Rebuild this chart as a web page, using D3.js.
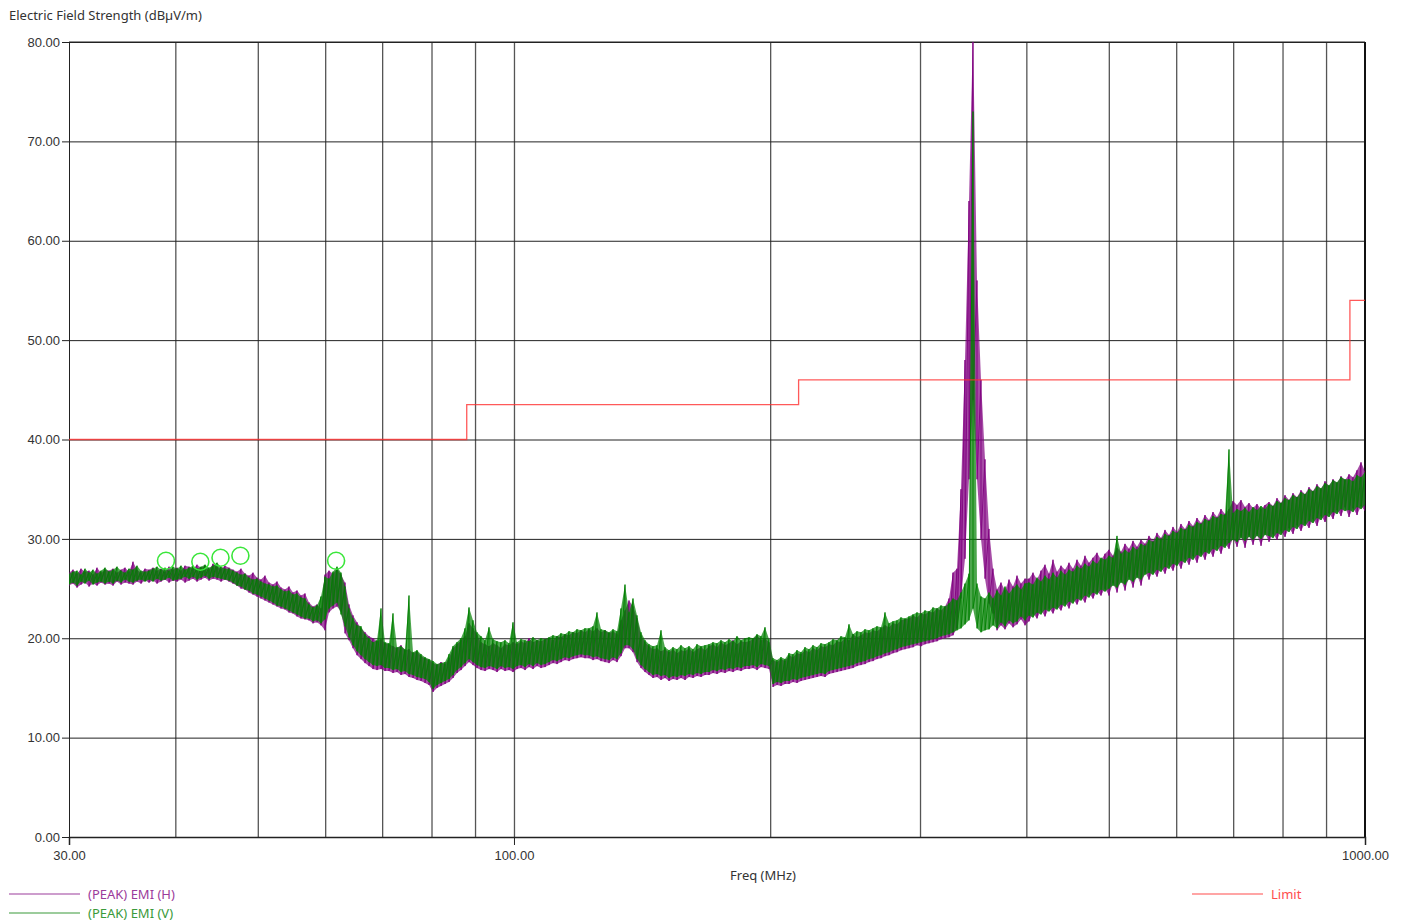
<!DOCTYPE html>
<html>
<head>
<meta charset="utf-8">
<script src="https://cdn.jsdelivr.net/npm/d3@7"></script>
<style>
  body { margin: 0; background: #fff; }
  svg { display: block; font-family: "Noto Sans", "Open Sans", sans-serif; }
  .tick text { font-size: 13px; fill: #333; }
</style>
</head>
<body>
<svg id="chart" width="1406" height="923"></svg>
<script>
// sweep display bins, evenly spaced in log frequency from 30 to 1000 MHz;
// each bin keeps the min and max level the receiver saw in it (dBuV/m)
const FREQ_START = 30, FREQ_STOP = 1000;

// (PEAK) EMI (H)
const EMI_H_MAX = [
  26.6, 26.9, 26.5, 27.0, 26.7, 26.8, 26.4, 27.1, 26.6, 26.9,
  26.8, 27.0, 26.6, 26.9, 27.1, 26.7, 27.7, 26.9, 26.6, 27.0,
  26.9, 27.1, 26.8, 27.0, 26.7, 27.2, 26.9, 27.1, 26.8, 27.3,
  27.2, 27.0, 27.4, 27.1, 27.3, 26.9, 27.5, 27.2, 27.0, 27.3,
  27.1, 26.9, 26.7, 27.0, 26.5, 26.3, 26.6, 26.1, 25.9, 26.3,
  25.6, 25.4, 25.7, 25.1, 24.9, 25.2, 24.6, 24.8, 24.3, 24.5,
  23.6, 23.2, 23.4, 23.0, 26.4, 26.8, 26.5, 27.0, 26.4, 25.6,
  23.4, 22.3, 21.6, 21.0, 20.6, 20.2, 20.0, 19.7, 19.9, 19.5,
  19.4, 19.2, 19.0, 19.3, 18.8, 18.9, 18.5, 18.7, 18.2, 18.0,
  17.8, 17.5, 17.3, 17.6, 17.4, 18.0, 19.0, 19.4, 19.8, 20.2,
  21.5, 21.0, 20.3, 19.6, 19.4, 19.2, 19.5, 19.3, 19.0, 19.4,
  19.3, 19.6, 19.4, 19.7, 19.5, 20.0, 19.6, 19.8, 19.7, 19.9,
  20.0, 19.8, 20.2, 20.1, 20.4, 20.3, 20.6, 20.5, 20.8, 20.6,
  20.9, 20.7, 21.0, 20.6, 20.8, 20.5, 20.7, 20.4, 21.8, 22.8,
  23.8, 23.2, 22.0, 20.3, 19.6, 19.2, 18.9, 19.0, 18.7, 18.9,
  18.6, 18.9, 18.5, 18.8, 18.7, 19.0, 18.6, 18.9, 19.1, 18.8,
  19.2, 19.4, 19.1, 19.6, 19.3, 19.5, 19.8, 19.4, 19.7, 19.6,
  19.7, 19.9, 20.3, 19.8, 20.0, 19.6, 17.8, 17.6, 17.9, 17.7,
  18.3, 18.1, 18.5, 18.4, 18.8, 18.6, 19.0, 18.8, 19.2, 19.1,
  19.4, 19.3, 19.7, 19.6, 20.0, 19.8, 20.4, 20.1, 20.3, 20.6,
  20.5, 20.8, 20.7, 21.0, 21.3, 21.1, 21.5, 21.4, 21.8, 21.9,
  22.0, 22.3, 22.1, 22.5, 22.4, 22.7, 22.6, 23.0, 22.8, 23.2,
  24.0, 26.6, 27.0, 35.0, 48.0, 64.0, 81.0, 56.0, 46.0, 38.0,
  31.0, 27.0, 24.9, 25.6, 24.8, 25.9, 25.2, 26.3, 25.5, 26.0,
  26.0, 26.6, 25.9, 26.8, 27.4, 26.5, 27.9, 26.7, 27.3, 26.9,
  27.6, 27.0, 27.9, 27.3, 28.3, 27.6, 28.1, 28.6, 27.9, 28.5,
  28.9, 28.3, 29.1, 28.7, 29.5, 29.0, 29.8, 29.2, 29.9, 29.5,
  30.3, 29.8, 30.6, 30.1, 30.9, 30.4, 31.2, 30.7, 31.5, 31.0,
  31.8, 31.3, 32.1, 31.6, 32.4, 31.9, 32.7, 32.2, 33.0, 32.5,
  33.0, 33.8, 33.4, 33.9, 33.2, 33.6, 33.1, 33.5, 33.0, 33.4,
  33.7, 33.3, 34.1, 33.6, 34.4, 33.9, 34.6, 34.2, 34.9, 34.5,
  35.2, 34.8, 35.5, 35.0, 35.8, 35.3, 36.0, 35.6, 36.3, 35.9,
  36.5, 36.2, 36.9, 37.7, 36.8
];
const EMI_H_MIN = [
  25.3, 25.5, 25.1, 25.4, 25.6, 25.2, 25.5, 25.3, 25.6, 25.4,
  25.5, 25.3, 25.7, 25.4, 25.6, 25.5, 25.4, 25.7, 25.5, 25.8,
  25.6, 25.8, 25.5, 25.7, 25.9, 25.6, 25.8, 25.7, 25.9, 25.6,
  25.8, 26.0, 25.7, 25.9, 26.1, 25.8, 26.0, 25.9, 25.7, 25.9,
  25.7, 25.5, 25.3, 25.0, 24.9, 24.6, 24.4, 24.2, 24.0, 23.8,
  23.6, 23.4, 23.2, 23.0, 22.9, 22.6, 22.5, 22.2, 22.0, 21.9,
  21.8, 21.5, 21.6, 21.3, 20.8, 22.6, 23.0, 23.2, 22.7, 20.5,
  19.8, 19.0, 18.3, 17.9, 17.5, 17.2, 16.9, 16.8, 16.9, 16.7,
  16.7, 16.5, 16.6, 16.3, 16.4, 16.1, 16.0, 15.8, 15.7, 15.5,
  15.3, 14.6, 15.0, 15.2, 15.4, 15.6, 16.0, 16.5, 16.8, 17.2,
  17.6, 17.3, 17.0, 16.8, 16.7, 16.9, 16.8, 16.6, 16.9, 16.7,
  16.8, 16.6, 16.9, 17.0, 16.8, 17.1, 16.9, 17.2, 17.0, 17.1,
  17.3, 17.5, 17.4, 17.6, 17.8, 17.7, 17.9, 18.0, 18.1, 18.0,
  18.0, 17.8, 17.9, 17.7, 17.6, 17.5, 17.8, 17.6, 18.2, 19.0,
  19.0, 18.6, 17.6, 17.0, 16.6, 16.3, 16.0, 16.1, 15.8, 16.0,
  15.7, 15.9, 15.8, 16.0, 15.8, 16.1, 16.0, 16.2, 16.1, 16.3,
  16.3, 16.5, 16.4, 16.6, 16.5, 16.7, 16.6, 16.8, 16.7, 16.9,
  16.9, 17.0, 16.8, 17.1, 17.0, 16.9, 15.1, 15.3, 15.2, 15.4,
  15.4, 15.6, 15.5, 15.7, 15.8, 15.9, 16.0, 16.1, 16.2, 16.1,
  16.4, 16.5, 16.6, 16.7, 16.8, 16.9, 17.0, 17.2, 17.3, 17.4,
  17.6, 17.7, 17.9, 18.0, 18.2, 18.3, 18.5, 18.6, 18.8, 18.9,
  19.0, 19.1, 19.3, 19.2, 19.4, 19.5, 19.6, 19.7, 19.9, 20.0,
  20.1, 20.3, 21.0, 24.0, 28.0, 36.0, 44.0, 36.0, 30.0, 26.0,
  23.5, 22.5, 20.8, 21.3, 20.9, 21.5, 21.1, 21.4, 21.9, 21.3,
  21.7, 22.5, 22.0, 22.8, 22.2, 23.0, 22.5, 23.2, 22.8, 23.6,
  23.0, 23.9, 23.4, 24.1, 23.6, 24.5, 24.0, 24.7, 24.3, 25.0,
  24.3, 25.6, 24.6, 25.9, 24.8, 26.2, 25.1, 26.4, 25.3, 26.7,
  25.9, 26.8, 26.2, 27.1, 26.5, 27.4, 26.8, 27.7, 27.0, 28.0,
  27.4, 28.3, 27.6, 28.6, 27.9, 28.9, 28.2, 29.2, 28.5, 29.5,
  29.0, 30.1, 29.2, 30.3, 29.1, 30.4, 29.4, 30.5, 29.3, 30.6,
  29.7, 30.5, 29.9, 30.8, 30.2, 31.1, 30.5, 31.4, 30.8, 31.6,
  31.1, 32.0, 31.3, 32.3, 31.7, 32.6, 32.0, 32.9, 32.3, 33.2,
  32.2, 33.1, 32.4, 33.3, 32.8
];

// (PEAK) EMI (V)
const EMI_V_MAX = [
  26.5, 26.7, 26.8, 26.4, 27.0, 26.6, 26.9, 26.5, 26.8, 27.1,
  26.7, 26.9, 27.2, 26.8, 26.6, 27.0, 26.9, 27.3, 26.8, 26.7,
  26.8, 27.0, 27.2, 26.9, 27.1, 26.8, 27.2, 27.0, 27.3, 26.9,
  27.1, 27.3, 27.0, 27.2, 27.4, 27.1, 27.3, 27.6, 27.2, 27.0,
  27.0, 26.8, 26.6, 26.4, 26.5, 26.1, 25.9, 26.0, 25.7, 25.5,
  25.4, 25.2, 25.3, 24.9, 24.7, 24.8, 24.4, 24.5, 24.1, 24.0,
  23.4, 23.1, 23.3, 24.2, 26.2, 26.0, 26.7, 27.2, 26.6, 25.2,
  23.0, 22.0, 21.3, 21.2, 20.4, 20.0, 19.6, 19.8, 23.0, 19.6,
  19.5, 22.5, 19.1, 19.2, 18.9, 24.3, 18.6, 18.8, 18.4, 18.1,
  17.9, 17.7, 17.4, 17.5, 17.6, 18.4, 19.2, 19.6, 20.0, 21.0,
  23.1, 21.8, 20.6, 20.2, 19.8, 21.1, 19.9, 19.7, 19.6, 19.8,
  19.5, 21.6, 19.6, 19.9, 19.8, 19.7, 20.1, 19.8, 20.0, 19.9,
  20.1, 20.3, 20.2, 20.5, 20.4, 20.7, 20.6, 20.9, 20.8, 21.0,
  21.0, 21.2, 22.6, 20.9, 20.8, 20.6, 20.9, 20.7, 23.0, 25.4,
  22.6, 24.0, 22.3, 20.6, 19.8, 19.4, 19.2, 19.3, 20.8, 19.1,
  18.8, 19.1, 18.9, 19.3, 19.0, 19.2, 18.9, 19.4, 19.2, 19.3,
  19.4, 19.6, 19.5, 19.8, 19.6, 19.9, 19.7, 20.2, 19.8, 20.0,
  20.1, 20.0, 20.4, 20.2, 21.1, 19.9, 18.0, 17.8, 18.1, 17.9,
  18.5, 18.4, 18.8, 18.6, 19.1, 18.9, 19.3, 19.1, 19.5, 19.4,
  19.6, 19.9, 19.8, 20.2, 20.1, 21.4, 20.4, 20.7, 20.6, 20.9,
  20.8, 21.0, 21.2, 21.1, 22.6, 21.5, 21.7, 21.8, 22.1, 22.0,
  22.2, 22.4, 22.6, 22.5, 22.8, 22.7, 23.1, 23.0, 23.3, 23.2,
  23.5, 24.0, 23.8, 24.6, 25.5, 26.5, 73.0, 25.5, 24.2, 24.0,
  24.6, 24.0, 24.8, 24.3, 25.2, 24.5, 25.0, 25.4, 24.9, 25.5,
  25.6, 25.4, 26.1, 25.7, 26.3, 25.9, 26.6, 26.1, 26.8, 26.4,
  26.9, 26.7, 27.3, 27.0, 27.5, 27.2, 27.8, 27.5, 28.1, 27.9,
  28.3, 28.1, 30.3, 28.5, 28.9, 28.6, 29.2, 28.9, 29.5, 29.3,
  29.9, 29.7, 30.2, 30.0, 30.5, 30.3, 30.8, 30.6, 31.1, 30.9,
  31.4, 31.2, 31.7, 31.5, 32.0, 31.8, 32.3, 32.1, 32.5, 32.4,
  39.0, 32.6, 33.0, 32.8, 33.1, 32.7, 33.2, 32.9, 33.3, 33.0,
  33.5, 33.3, 33.8, 33.6, 34.1, 33.9, 34.4, 34.2, 34.7, 34.5,
  35.0, 34.8, 35.3, 35.1, 35.6, 35.4, 35.9, 35.7, 36.2, 36.0,
  36.0, 35.8, 36.4, 36.2, 36.7
];
const EMI_V_MIN = [
  25.4, 25.6, 25.3, 25.7, 25.5, 25.8, 25.4, 25.6, 25.7, 25.5,
  25.7, 25.5, 25.8, 25.6, 25.9, 25.7, 25.6, 25.8, 25.9, 25.7,
  25.9, 25.7, 26.0, 25.8, 25.9, 26.1, 25.8, 25.9, 26.0, 26.2,
  26.0, 26.2, 25.9, 26.1, 26.3, 26.0, 26.2, 26.1, 26.0, 25.9,
  25.8, 25.6, 25.3, 25.2, 24.9, 24.8, 24.5, 24.4, 24.2, 24.0,
  23.8, 23.6, 23.3, 23.2, 23.0, 22.8, 22.6, 22.4, 22.2, 22.0,
  22.0, 21.7, 21.8, 21.5, 21.9, 23.0, 23.3, 23.6, 22.4, 21.2,
  20.1, 19.3, 18.7, 18.3, 17.9, 17.6, 17.3, 17.2, 17.3, 17.0,
  17.0, 16.8, 16.9, 16.6, 16.7, 16.4, 16.3, 16.1, 16.0, 15.9,
  15.6, 14.9, 15.3, 15.5, 15.7, 15.9, 16.3, 16.8, 17.1, 17.5,
  17.9, 17.6, 17.3, 17.1, 17.0, 17.2, 17.1, 16.9, 17.2, 17.0,
  17.1, 16.9, 17.2, 17.3, 17.1, 17.4, 17.2, 17.5, 17.3, 17.4,
  17.6, 17.8, 17.7, 17.9, 18.1, 18.0, 18.2, 18.3, 18.4, 18.3,
  18.3, 18.1, 18.2, 18.0, 17.9, 17.8, 18.1, 17.9, 18.5, 19.3,
  19.3, 18.9, 17.9, 17.3, 16.9, 16.6, 16.3, 16.4, 16.2, 16.3,
  16.0, 16.2, 16.1, 16.3, 16.2, 16.4, 16.3, 16.5, 16.4, 16.6,
  16.6, 16.8, 16.7, 16.9, 16.8, 17.0, 16.9, 17.1, 17.0, 17.2,
  17.2, 17.3, 17.1, 17.4, 17.3, 17.2, 15.4, 15.6, 15.5, 15.7,
  15.7, 15.9, 15.8, 16.0, 16.1, 16.2, 16.3, 16.4, 16.5, 16.4,
  16.7, 16.8, 16.9, 17.0, 17.1, 17.2, 17.3, 17.5, 17.6, 17.7,
  17.9, 18.0, 18.2, 18.3, 18.5, 18.6, 18.8, 18.9, 19.1, 19.2,
  19.3, 19.4, 19.5, 19.6, 19.7, 19.8, 19.9, 20.0, 20.2, 20.3,
  20.4, 20.6, 20.8, 21.0, 21.4, 21.8, 23.0, 21.0, 20.6, 20.8,
  20.9, 21.3, 21.0, 21.6, 21.2, 21.8, 21.5, 21.7, 22.2, 21.8,
  22.3, 22.1, 22.6, 22.4, 22.9, 22.7, 23.1, 22.9, 23.4, 23.2,
  23.7, 23.5, 24.0, 23.8, 24.3, 24.1, 24.6, 24.4, 24.9, 24.7,
  25.0, 25.3, 25.1, 25.6, 25.4, 25.9, 25.7, 26.1, 25.9, 26.4,
  26.6, 26.4, 26.9, 26.7, 27.2, 27.0, 27.5, 27.3, 27.8, 27.6,
  28.1, 27.9, 28.4, 28.2, 28.7, 28.5, 29.0, 28.8, 29.3, 29.1,
  29.6, 29.9, 29.7, 30.1, 29.8, 30.2, 29.9, 30.3, 30.0, 30.4,
  30.3, 30.1, 30.6, 30.4, 30.9, 30.7, 31.2, 31.0, 31.5, 31.3,
  31.8, 31.6, 32.1, 31.9, 32.4, 32.2, 32.7, 32.5, 33.0, 32.8,
  32.9, 32.7, 33.2, 33.0, 33.4
];

// FCC class B limit (3 m)
const LIMIT_FREQ  = [30, 88, 88, 216, 216, 960, 960, 1000];
const LIMIT_LEVEL = [40, 40, 43.5, 43.5, 46, 46, 54, 54];

// peak markers
const MARK_FREQ  = [39.0, 42.8, 45.2, 47.7, 61.8];
const MARK_LEVEL = [27.8, 27.7, 28.1, 28.3, 27.8];

const Y_TICKS = [0, 10, 20, 30, 40, 50, 60, 70, 80];
const X_LABELS = [30, 100, 1000];
const X_GRID = [40, 50, 60, 70, 80, 90, 100, 200, 300, 400, 500, 600, 700, 800, 900];

const margin = { left: 69, right: 41, top: 42, bottom: 86 };
const svg = d3.select('#chart');
const W = +svg.attr('width'), H = +svg.attr('height');
const plotW = W - margin.left - margin.right;
const plotH = H - margin.top - margin.bottom;

const x = d3.scaleLog().domain([FREQ_START, FREQ_STOP]).range([margin.left, margin.left + plotW]);
const y = d3.scaleLinear().domain([0, 80]).range([margin.top + plotH, margin.top]);

const binFreq = (n, i) => FREQ_START * Math.pow(FREQ_STOP / FREQ_START, i / (n - 1));

svg.append('defs').append('clipPath').attr('id', 'plot-clip')
  .append('rect')
  .attr('x', margin.left).attr('y', margin.top)
  .attr('width', plotW).attr('height', plotH);

// vertical grid
svg.append('g')
  .attr('transform', `translate(0,${margin.top + plotH})`)
  .call(d3.axisBottom(x).tickValues(X_GRID).tickSize(-plotH).tickFormat(''))
  .call(g => g.select('.domain').remove())
  .call(g => g.selectAll('.tick line').attr('stroke', '#555').attr('stroke-width', 1.3));

// horizontal grid
svg.append('g')
  .attr('transform', `translate(${margin.left},0)`)
  .call(d3.axisLeft(y).tickValues(Y_TICKS).tickSize(-plotW).tickFormat(''))
  .call(g => g.select('.domain').remove())
  .call(g => g.selectAll('.tick line').attr('stroke', '#222').attr('stroke-width', 1));

// y axis
svg.append('g')
  .attr('transform', `translate(${margin.left},0)`)
  .call(d3.axisLeft(y).tickValues(Y_TICKS).tickSize(7).tickPadding(2).tickFormat(d3.format('.2f')))
  .call(g => g.select('.domain').attr('stroke', '#222'))
  .call(g => g.selectAll('.tick line').attr('stroke', '#222'));

// x axis
svg.append('g')
  .attr('transform', `translate(0,${margin.top + plotH})`)
  .call(d3.axisBottom(x).tickValues(X_LABELS).tickSize(8).tickPadding(6).tickFormat(d3.format('.2f')))
  .call(g => g.select('.domain').attr('stroke', '#222').attr('stroke-width', 1.5))
  .call(g => g.selectAll('.tick line').attr('stroke', '#222'));

// top and right frame
svg.append('line')
  .attr('x1', margin.left).attr('x2', margin.left + plotW)
  .attr('y1', margin.top).attr('y2', margin.top)
  .attr('stroke', '#222');
svg.append('line')
  .attr('x1', margin.left + plotW).attr('x2', margin.left + plotW)
  .attr('y1', margin.top).attr('y2', margin.top + plotH)
  .attr('stroke', '#111').attr('stroke-width', 2);

const plot = svg.append('g').attr('clip-path', 'url(#plot-clip)');

const traceLine = d3.line()
  .x(d => x(d[0]))
  .y(d => y(d[1]));

const band = d3.area()
  .x(d => x(d.f))
  .y0(d => y(d.lo))
  .y1(d => y(d.hi));

const series = [
  { hi: EMI_H_MAX, lo: EMI_H_MIN, color: '#800080' },
  { hi: EMI_V_MAX, lo: EMI_V_MIN, color: '#008000' },
];

series.forEach(s => {
  const n = s.hi.length;
  const bins = s.hi.map((v, i) => ({ f: binFreq(n, i), hi: v, lo: s.lo[i] }));
  plot.append('path')
    .datum(bins)
    .attr('fill', s.color)
    .attr('fill-opacity', 0.7)
    .attr('d', band);
  // min/max zig-zag per bin
  plot.append('path')
    .datum(bins.flatMap(b => [[b.f, b.hi], [b.f, b.lo]]))
    .attr('fill', 'none')
    .attr('stroke', s.color)
    .attr('stroke-opacity', 0.9)
    .attr('stroke-width', 1)
    .attr('d', traceLine);
});

// limit line
plot.append('path')
  .datum(LIMIT_FREQ.map((f, i) => [f, LIMIT_LEVEL[i]]))
  .attr('fill', 'none')
  .attr('stroke', '#ff3030')
  .attr('stroke-opacity', 0.8)
  .attr('stroke-width', 1.3)
  .attr('d', traceLine);

// markers
svg.append('g').selectAll('circle')
  .data(MARK_FREQ.map((f, i) => [f, MARK_LEVEL[i]]))
  .join('circle')
  .attr('cx', d => x(d[0]))
  .attr('cy', d => y(d[1]))
  .attr('r', 8.5)
  .attr('fill', 'none')
  .attr('stroke', '#3ae63a')
  .attr('stroke-width', 1.6);

// titles
svg.append('text')
  .attr('x', 9).attr('y', 20)
  .attr('font-size', 13).attr('fill', '#333')
  .text('Electric Field Strength (dBµV/m)');

svg.append('text')
  .attr('x', 763).attr('y', 880)
  .attr('text-anchor', 'middle')
  .attr('font-size', 13).attr('fill', '#333')
  .text('Freq (MHz)');

// legend
const legend = [
  { label: '(PEAK) EMI (H)', color: '#9b3c9b', x: 9, y: 894 },
  { label: '(PEAK) EMI (V)', color: '#3a9a3a', x: 9, y: 913 },
  { label: 'Limit', color: '#ff4d4d', x: 1192, y: 894 },
];
const lg = svg.append('g').selectAll('g').data(legend).join('g');
lg.append('line')
  .attr('x1', d => d.x).attr('x2', d => d.x + 71)
  .attr('y1', d => d.y).attr('y2', d => d.y)
  .attr('stroke', d => d.color).attr('stroke-width', 1.2);
lg.append('text')
  .attr('x', d => d.x + 79).attr('y', d => d.y + 5)
  .attr('font-size', 13)
  .attr('fill', d => d.color)
  .text(d => d.label);
</script>
</body>
</html>
